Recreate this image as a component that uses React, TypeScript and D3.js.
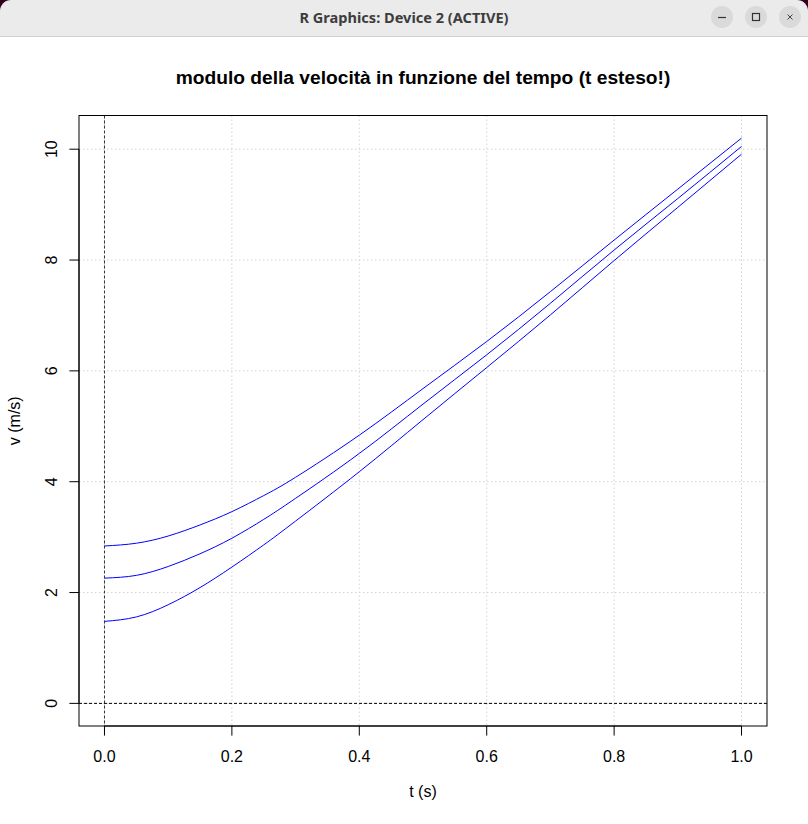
import React, { useEffect, useRef } from 'react';
import * as d3 from 'd3';

// values
const tValues = [0, 0.05, 0.1, 0.15, 0.2, 0.25, 0.3, 0.4, 0.5, 0.6, 0.7, 0.8, 0.9, 1.0];
const vTop = [2.84, 2.89, 3.02, 3.22, 3.46, 3.75, 4.08, 4.84, 5.68, 6.53, 7.43, 8.36, 9.28, 10.2];
const vMid = [2.26, 2.31, 2.47, 2.7, 2.98, 3.32, 3.7, 4.51, 5.4, 6.29, 7.22, 8.18, 9.11, 10.05];
const vBot = [1.48, 1.56, 1.78, 2.09, 2.46, 2.86, 3.29, 4.18, 5.12, 6.06, 7.01, 7.99, 8.95, 9.91];
const xTicks = [0, 0.2, 0.4, 0.6, 0.8, 1.0];
const yTicks = [0, 2, 4, 6, 8, 10];

const TITLE = 'modulo della velocità in funzione del tempo (t esteso!)';
const WINDOW_TITLE = 'R Graphics: Device 2 (ACTIVE)';

const W = 808;
const H = 824;
const FONT = '"Liberation Sans", Arial, sans-serif';

export default function App() {
  const ref = useRef<SVGSVGElement>(null);

  useEffect(() => {
    if (!ref.current) return;
    const svg = d3.select(ref.current);
    svg.selectAll('*').remove();

    svg.append('rect').attr('width', W).attr('height', H).attr('fill', '#ffffff');

    // window title bar
    svg.append('rect').attr('width', W).attr('height', 14).attr('fill', '#2c001e');
    svg.append('rect')
      .attr('x', 0).attr('y', 0).attr('width', W).attr('height', 36)
      .attr('rx', 11).attr('fill', '#ebebeb');
    svg.append('rect').attr('x', 0).attr('y', 18).attr('width', W).attr('height', 18).attr('fill', '#ebebeb');
    svg.append('line')
      .attr('x1', 0).attr('x2', W).attr('y1', 36.5).attr('y2', 36.5)
      .attr('stroke', '#cfcfcf');
    svg.append('text')
      .attr('x', 404).attr('y', 23)
      .attr('text-anchor', 'middle')
      .attr('font-family', '"Noto Sans", "DejaVu Sans", sans-serif')
      .attr('font-weight', 'bold')
      .attr('font-size', 14)
      .attr('textLength', 209)
      .attr('lengthAdjust', 'spacingAndGlyphs')
      .attr('fill', '#3d3d3d')
      .text(WINDOW_TITLE);

    const buttons = [722, 756, 790];
    buttons.forEach((cx) => {
      svg.append('circle').attr('cx', cx).attr('cy', 17).attr('r', 11).attr('fill', '#dadada');
    });
    svg.append('line')
      .attr('x1', 718).attr('x2', 726).attr('y1', 17.5).attr('y2', 17.5)
      .attr('stroke', '#333').attr('stroke-width', 1.2);
    svg.append('rect')
      .attr('x', 752.5).attr('y', 13.5).attr('width', 7).attr('height', 7)
      .attr('fill', 'none').attr('stroke', '#333').attr('stroke-width', 1.2);
    svg.append('path')
      .attr('d', 'M787.5,14.5L792.5,19.5M792.5,14.5L787.5,19.5')
      .attr('stroke', '#444').attr('stroke-width', 1);

    // plot region
    const left = 79;
    const right = 767;
    const top = 115.5;
    const bottom = 726;

    const yMax = d3.max([...vTop, ...vMid, ...vBot]) ?? 10;
    const x = d3.scaleLinear().domain([-0.04, 1.04]).range([left, right]);
    const y = d3.scaleLinear().domain([-0.04 * yMax, 1.04 * yMax]).range([bottom, top]);

    const g = svg.append('g');

    // grid
    g.selectAll('.vgrid')
      .data(xTicks)
      .join('line')
      .attr('x1', (d) => x(d)).attr('x2', (d) => x(d))
      .attr('y1', top).attr('y2', bottom)
      .attr('stroke', '#d3d3d3')
      .attr('stroke-dasharray', '1.5,2.5');
    g.selectAll('.hgrid')
      .data(yTicks)
      .join('line')
      .attr('x1', left).attr('x2', right)
      .attr('y1', (d) => y(d)).attr('y2', (d) => y(d))
      .attr('stroke', '#d3d3d3')
      .attr('stroke-dasharray', '1.5,2.5');

    // reference lines
    g.append('line')
      .attr('x1', x(0)).attr('x2', x(0))
      .attr('y1', top).attr('y2', bottom)
      .attr('stroke', '#333')
      .attr('stroke-dasharray', '3,2');
    g.append('line')
      .attr('x1', left).attr('x2', right)
      .attr('y1', y(0)).attr('y2', y(0))
      .attr('stroke', '#000')
      .attr('stroke-dasharray', '3,2');

    // curves
    const line = d3.line<number>()
      .x((_, i) => x(tValues[i]))
      .y((d) => y(d))
      .curve(d3.curveNatural);
    [vTop, vMid, vBot].forEach((series) => {
      g.append('path')
        .attr('d', line(series))
        .attr('fill', 'none')
        .attr('stroke', '#0000ff')
        .attr('stroke-width', 1);
    });

    // box
    g.append('rect')
      .attr('x', left).attr('y', top)
      .attr('width', right - left).attr('height', bottom - top)
      .attr('fill', 'none').attr('stroke', '#000');

    // x axis
    g.append('line')
      .attr('x1', x(xTicks[0])).attr('x2', x(xTicks[xTicks.length - 1]))
      .attr('y1', bottom).attr('y2', bottom)
      .attr('stroke', '#000');
    g.selectAll('.xtick')
      .data(xTicks)
      .join('line')
      .attr('x1', (d) => x(d)).attr('x2', (d) => x(d))
      .attr('y1', bottom).attr('y2', bottom + 9.6)
      .attr('stroke', '#000');
    g.selectAll('.xlab')
      .data(xTicks)
      .join('text')
      .attr('x', (d) => x(d))
      .attr('y', 761.5)
      .attr('text-anchor', 'middle')
      .attr('font-family', FONT)
      .attr('font-size', 16)
      .attr('fill', '#000')
      .text((d) => d.toFixed(1));

    // y axis
    g.append('line')
      .attr('x1', left).attr('x2', left)
      .attr('y1', y(yTicks[0])).attr('y2', y(yTicks[yTicks.length - 1]))
      .attr('stroke', '#000');
    g.selectAll('.ytick')
      .data(yTicks)
      .join('line')
      .attr('x1', left - 9.6).attr('x2', left)
      .attr('y1', (d) => y(d)).attr('y2', (d) => y(d))
      .attr('stroke', '#000');
    g.selectAll('.ylab')
      .data(yTicks)
      .join('text')
      .attr('transform', (d) => `translate(57,${y(d)}) rotate(-90)`)
      .attr('text-anchor', 'middle')
      .attr('font-family', FONT)
      .attr('font-size', 16)
      .attr('fill', '#000')
      .text((d) => String(d));

    // titles
    svg.append('text')
      .attr('x', (left + right) / 2)
      .attr('y', 83.5)
      .attr('text-anchor', 'middle')
      .attr('font-family', FONT)
      .attr('font-weight', 'bold')
      .attr('font-size', 19.2)
      .attr('fill', '#000')
      .text(TITLE);
    svg.append('text')
      .attr('x', (left + right) / 2)
      .attr('y', 797)
      .attr('text-anchor', 'middle')
      .attr('font-family', FONT)
      .attr('font-size', 16)
      .attr('fill', '#000')
      .text('t (s)');
    svg.append('text')
      .attr('transform', `translate(20,${(top + bottom) / 2}) rotate(-90)`)
      .attr('text-anchor', 'middle')
      .attr('font-family', FONT)
      .attr('font-size', 16)
      .attr('fill', '#000')
      .text('v (m/s)');
  }, []);

  return (
    <svg
      ref={ref}
      width={W}
      height={H}
      style={{ position: 'fixed', left: 0, top: 0, display: 'block' }}
    />
  );
}
